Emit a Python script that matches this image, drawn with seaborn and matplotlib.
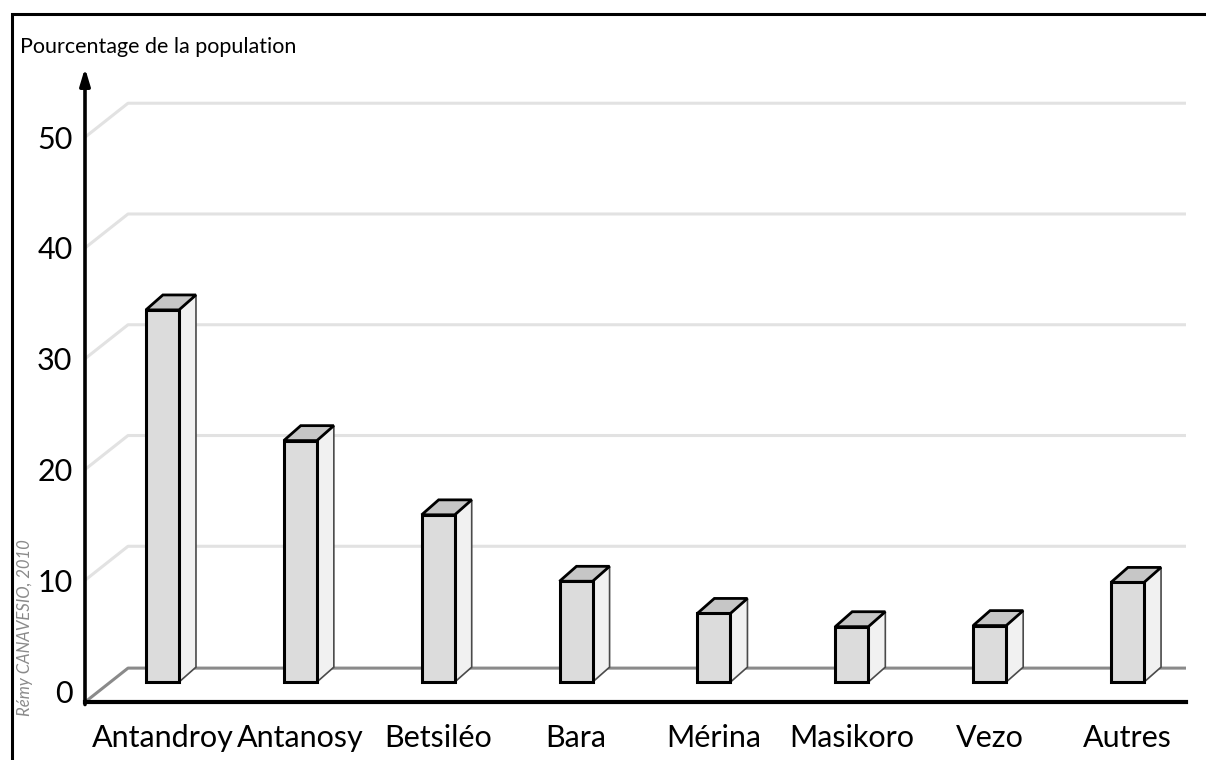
import matplotlib.pyplot as plt
import seaborn as sns
from matplotlib.patches import Polygon, Rectangle

# data
groups = ['Antandroy', 'Antanosy', 'Betsiléo', 'Bara', 'Mérina', 'Masikoro', 'Vezo', 'Autres']
shares = [33.6, 21.8, 15.1, 9.1, 6.2, 5.0, 5.1, 9.0]
y_ticks = [0, 10, 20, 30, 40, 50]
grid_levels = [10, 20, 30, 40, 50]

y_label = 'Pourcentage de la population'
credit = 'Rémy CANAVESIO, 2010'

# fake perspective, in data units
DEPTH_X, DEPTH_Y = 0.312, 3.07   # back wall offset
BAR_DX, BAR_DY = 0.123, 1.35     # depth of a bar
FLOOR = -1.0
BASE = 0.81
BAR_W = 0.24
XLIM = (-0.562, 7.424)
YLIM = (-0.99, 56.25)

sns.set_style('white')
plt.rcParams['font.family'] = ['Lato', 'DejaVu Sans']
plt.rcParams['text.color'] = 'black'
plt.rcParams['xtick.color'] = 'black'
plt.rcParams['ytick.color'] = 'black'

fig = plt.figure(figsize=(12.06, 7.6), dpi=100)
ax = fig.add_axes([85 / 1206, 1 - 702 / 760, (1186 - 85) / 1206, (702 - 68) / 760])
ax.set_facecolor('none')

sns.barplot(x=groups, y=shares, ax=ax, color='#dcdcdc', saturation=1, width=BAR_W,
            edgecolor='black', linewidth=2.2, zorder=3)

### 3D faces of the bars ###
for p, v in zip(list(ax.patches), shares):
    p.set_y(BASE)
    p.set_height(v)
    p.set_joinstyle('miter')
    x0 = p.get_x()
    x1 = x0 + p.get_width()
    top = BASE + v
    side = Polygon([(x1, BASE), (x1 + BAR_DX, BASE + BAR_DY), (x1 + BAR_DX, top + BAR_DY), (x1, top)],
                   closed=True, fc='#f1f1f1', ec='#4a4a4a', lw=1.2, zorder=2.8)
    lid = Polygon([(x0, top), (x0 + BAR_DX, top + BAR_DY), (x1 + BAR_DX, top + BAR_DY), (x1, top)],
                  closed=True, fc='#c6c6c6', ec='black', lw=2, joinstyle='miter', zorder=2.9)
    ax.add_patch(side)
    ax.add_patch(lid)

### back wall grid and floor ###
for v in grid_levels:
    ax.plot([XLIM[0], XLIM[0] + DEPTH_X, XLIM[1]], [v, v + DEPTH_Y, v + DEPTH_Y],
            color='#e2e2e2', lw=2.2, zorder=1)
ax.plot([XLIM[0], XLIM[0] + DEPTH_X, XLIM[1]], [FLOOR, FLOOR + DEPTH_Y, FLOOR + DEPTH_Y],
        color='#8a8a8a', lw=2.2, zorder=1.5)

ax.set_xlim(*XLIM)
ax.set_ylim(*YLIM)
ax.set_yticks(y_ticks)
ax.set_xlabel('')
ax.set_ylabel('')
ax.tick_params(axis='y', length=0, pad=9, labelsize=22)
ax.tick_params(axis='x', length=0, pad=16, labelsize=22)

for s in ['top', 'right', 'left']:
    ax.spines[s].set_visible(False)
ax.spines['bottom'].set_color('black')
ax.spines['bottom'].set_linewidth(3)

ax.annotate('', xy=(0, 1), xytext=(0, -0.004), xycoords='axes fraction',
            arrowprops=dict(arrowstyle='-|>,head_length=1.0,head_width=0.3', color='black',
                            lw=2.6, shrinkA=0, shrinkB=0), annotation_clip=False)

fig.text(20 / 1206, 1 - 47 / 760, y_label, fontsize=15.5, va='center', ha='left')
fig.text(25 / 1206, 1 - 628 / 760, credit, rotation=90, style='italic', color='#8a8a8a',
         fontsize=12, ha='center', va='center')

fig.patches.append(Rectangle((12 / 1206, -0.1), 1.2, 1 - 14 / 760 + 0.1, transform=fig.transFigure,
                             fill=False, ec='black', lw=2.2))

fig.savefig('out.png', dpi=100, facecolor='white')
